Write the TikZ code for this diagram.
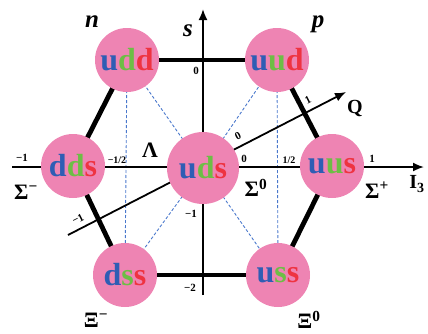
\documentclass[tikz,border=0pt]{standalone}
\usepackage{fontspec}
\setmainfont{Liberation Serif}
\usetikzlibrary{arrows.meta}
\definecolor{pinkc}{HTML}{EE84B3}
\definecolor{qb}{HTML}{2F5DB4}
\definecolor{qg}{HTML}{6DBE45}
\definecolor{qr}{HTML}{EE3341}
\definecolor{dashb}{HTML}{4A78CC}
\newcommand\qrk[3]{\textcolor{qb}{#1}\textcolor{qg}{#2}\textcolor{qr}{#3}}
\pgfdeclarelayer{bg}
\pgfsetlayers{bg,main}
\begin{document}
\begin{tikzpicture}[x=1pt,y=-1pt,
  baryon/.style={circle, fill=pinkc, minimum size=64pt, inner sep=0pt,
    font=\fontsize{32}{32}\selectfont\bfseries},
  hexedge/.style={line width=4.8pt, black},
  dashl/.style={dashb, line width=0.9pt, dash pattern=on 3pt off 2pt},
  axis/.style={line width=1.8pt, black, -{Latex[length=11pt,width=9pt]}},
  tick/.style={font=\fontsize{11}{11}\selectfont\bfseries, inner sep=0pt},
  half/.style={font=\fontsize{10}{10}\selectfont\bfseries, inner sep=0pt},
  plabel/.style={font=\fontsize{22}{22}\selectfont\bfseries, inner sep=0pt},
  ilabel/.style={font=\fontsize{25}{25}\selectfont\bfseries\itshape, inner sep=0pt}
]
\useasboundingbox (0,0) rectangle (428,333);

% baryons
\node[baryon] (udd) at (127,60) {\qrk{u}{d}{d}};
\node[baryon] (uud) at (277,60) {\qrk{u}{u}{d}};
\node[baryon] (dds) at (73,166) {\qrk{d}{d}{s}};
\node[baryon, minimum size=72pt] (uds) at (203,168) {\qrk{u}{d}{s}};
\node[baryon] (uus) at (332,166) {\qrk{u}{u}{s}};
\node[baryon] (dss) at (125,275) {\qrk{d}{s}{s}};
\node[baryon] (uss) at (278,275) {\qrk{u}{s}{s}};

% axis end points
\coordinate (sB) at (203,295);
\coordinate (sT) at (203,9);
\coordinate (iL) at (12,167);
\coordinate (iR) at (424,167);
\coordinate (qL) at (68,235);
\coordinate (qR) at (346,92);

\begin{pgfonlayer}{bg}
  \draw[dashl] (uds.center) -- (udd.center);
  \draw[dashl] (uds.center) -- (uud.center);
  \draw[dashl] (uds.center) -- (dss.center);
  \draw[dashl] (uds.center) -- (uss.center);
  \draw[dashl] (udd.center) -- (dss.center);
  \draw[dashl] (uud.center) -- (uss.center);
  \draw[hexedge] (udd.center) -- (uud.center);
  \draw[hexedge] (uud.center) -- (uus.center);
  \draw[hexedge] (uus.center) -- (uss.center);
  \draw[hexedge] (uss.center) -- (dss.center);
  \draw[hexedge] (dss.center) -- (dds.center);
  \draw[hexedge] (dds.center) -- (udd.center);
  \draw[axis] (sB) -- (sT);
  \draw[axis] (iL) -- (iR);
  \draw[axis] (qL) -- (qR);
\end{pgfonlayer}

% axis names
\node[ilabel] (sname) at (188,31) {s};
\node[font=\fontsize{20}{20}\selectfont\bfseries, inner sep=0pt] (qname) at (355,108) {Q};
\node[font=\fontsize{20}{20}\selectfont\bfseries, inner sep=0pt] (iname) at (417,184) {I\textsubscript{3}};

% tick labels
\node[tick] (t1) at (22,158) {−1};
\node[half] (t2) at (117,160) {−1/2};
\node[tick] (t3) at (244,159) {0};
\node[half] (t4) at (289,160) {1/2};
\node[tick] (t5) at (372,159) {1};
\node[tick] (t6) at (196,71) {0};
\node[tick] (t7) at (191,214) {−1};
\node[tick] (t8) at (190,288) {−2};
\node[tick, rotate=27] (t9) at (308,100) {1};
\node[tick, rotate=27] (t10) at (238,136) {0};
\node[tick, rotate=27] (t11) at (78,219) {−1};

% particle labels
\node[ilabel] (nname) at (92,22) {n};
\node[ilabel] (pname) at (318,24) {p};
\node[plabel] (lam) at (150,150) {Λ};
\node[plabel] (sig0) at (256,188) {Σ\textsuperscript{0}};
\node[plabel] (sigm) at (26,192) {Σ\textsuperscript{−}};
\node[plabel] (sigp) at (377,190) {Σ\textsuperscript{+}};
\node[plabel] (xim) at (96,320) {Ξ\textsuperscript{−}};
\node[plabel] (xi0) at (309,320) {Ξ\textsuperscript{0}};
\end{tikzpicture}
\end{document}
